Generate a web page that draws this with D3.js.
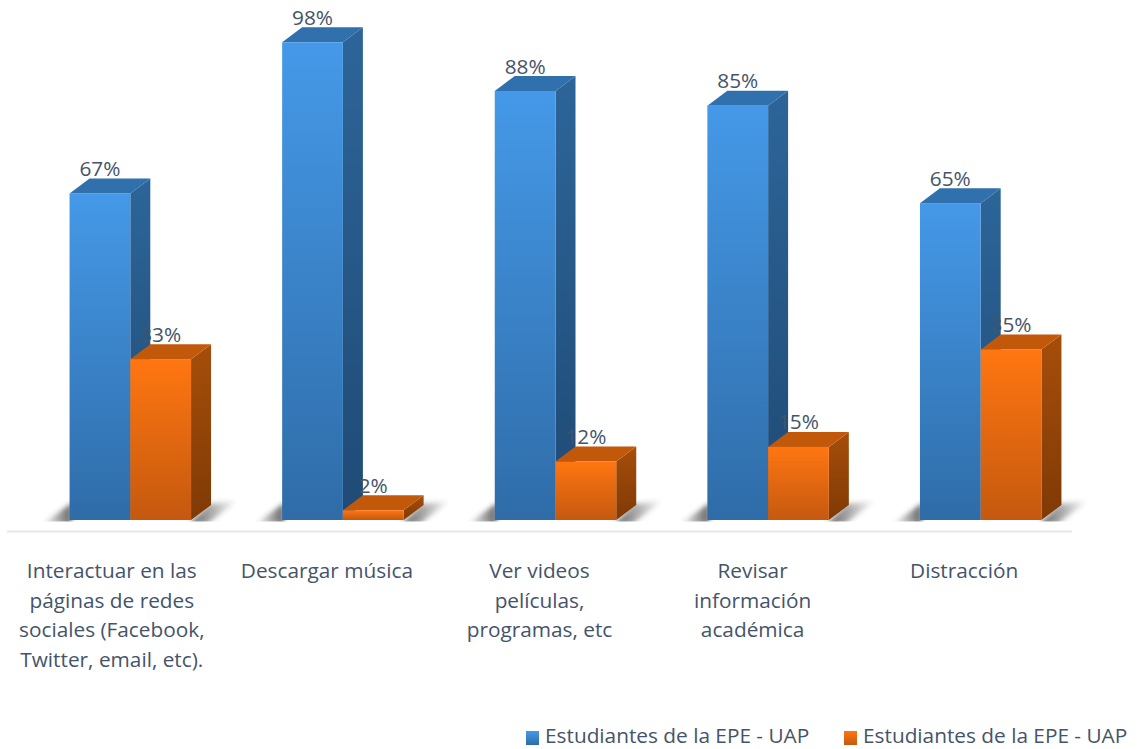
<!DOCTYPE html>
<html>
<head>
<meta charset="utf-8">
<script src="https://cdnjs.cloudflare.com/ajax/libs/d3/7.8.5/d3.min.js"></script>
<style>
  html, body { margin: 0; padding: 0; background: #fff; }
  text { font-family: 'Open Sans', sans-serif; fill: #44546a; }
</style>
</head>
<body>
<div id="chart"></div>
<script>
const categories = [
  ['Interactuar en las', 'páginas de redes', 'sociales (Facebook,', 'Twitter, email, etc).'],
  ['Descargar música'],
  ['Ver videos', 'películas,', 'programas, etc'],
  ['Revisar', 'información', 'académica'],
  ['Distracción']
];
const seriesNames = ['Estudiantes de la EPE - UAP', 'Estudiantes de la EPE - UAP'];
const seriesA = [67, 98, 88, 85, 65];
const seriesB = [33, 2, 12, 15, 35];

const WIDTH = 1138;
const HEIGHT = 749;
const BASE = 520;
const DEPTH = { x: 20, y: 15 };
const FONT = 20.8;
const LABEL_SHIFT = [-18.5, -16, -16, -15.5, -16.5];

const COLORS = [
  { front: ['#4599e8', '#2f6ca8'], side: ['#2d6599', '#1f4a75'], top: '#2f70ad' },
  { front: ['#ff7611', '#c4590f'], side: ['#a64e0a', '#7f3a05'], top: '#c2590a' }
];

const groupScale = d3.scaleBand()
  .domain(d3.range(categories.length))
  .range([24, 1087]);
const barScale = d3.scaleBand()
  .domain([0, 1])
  .range([0, groupScale.bandwidth()])
  .paddingOuter(0.75);
const yScale = d3.scaleLinear()
  .domain([0, 100])
  .range([BASE, 32.5]);

const svg = d3.select('#chart').append('svg')
  .attr('width', WIDTH)
  .attr('height', HEIGHT)
  .style('display', 'block');

const defs = svg.append('defs');

COLORS.forEach((c, i) => {
  for (let part of ['front', 'side']) {
    let grad = defs.append('linearGradient')
      .attr('id', `${part}${i}`)
      .attr('x1', 0).attr('y1', 0).attr('x2', 0).attr('y2', 1);
    grad.append('stop').attr('offset', '0%').attr('stop-color', c[part][0]);
    grad.append('stop').attr('offset', '100%').attr('stop-color', c[part][1]);
  }
});

// Shadow fades, one for each direction
for (let [id, from, to] of [['fadeLeft', 0, 0.8], ['fadeRight', 0.8, 0]]) {
  let grad = defs.append('linearGradient')
    .attr('id', id)
    .attr('x1', 0).attr('y1', 0).attr('x2', 1).attr('y2', 0);
  grad.append('stop').attr('offset', '0%').attr('stop-color', '#3a3a3a').attr('stop-opacity', from);
  grad.append('stop').attr('offset', '100%').attr('stop-color', '#3a3a3a').attr('stop-opacity', to);
}

defs.append('filter')
  .attr('id', 'blur')
  .attr('x', '-30%').attr('y', '-30%').attr('width', '160%').attr('height', '160%')
  .append('feGaussianBlur')
  .attr('stdDeviation', 2.5);

defs.append('clipPath')
  .attr('id', 'floor')
  .append('rect')
  .attr('x', 0).attr('y', 0).attr('width', WIDTH).attr('height', BASE + 1.5);

// Axis line under the bars
svg.append('line')
  .attr('x1', 7).attr('x2', 1072)
  .attr('y1', 531.5).attr('y2', 531.5)
  .style('stroke', '#e3e7ec')
  .style('stroke-width', 2);

// Floor shadows
const shadows = svg.append('g').attr('clip-path', 'url(#floor)');
categories.forEach((d, i) => {
  let left = groupScale(i) + barScale(0);
  let right = groupScale(i) + barScale(1) + barScale.bandwidth();
  shadows.append('polygon')
    .attr('points', [[left - 27, BASE + 4], [left + 2, BASE - 17], [left + 2, BASE + 4]].join(' '))
    .attr('filter', 'url(#blur)')
    .style('fill', 'url(#fadeLeft)');
  shadows.append('polygon')
    .attr('points', [[right - 2, BASE + 4], [right + DEPTH.x - 2, BASE - DEPTH.y - 1], [right + 46, BASE - DEPTH.y - 4], [right + 16, BASE + 4]].join(' '))
    .attr('filter', 'url(#blur)')
    .style('fill', 'url(#fadeRight)');
});

// Bars, blue first so the orange one sits in front of its dark side
const values = [seriesA, seriesB];
const bars = svg.append('g');
categories.forEach((d, i) => {
  values.forEach((series, s) => {
    let x = groupScale(i) + barScale(s);
    let w = barScale.bandwidth();
    let y = yScale(series[i]);
    let g = bars.append('g');

    g.append('polygon')
      .attr('points', [[x + w, y], [x + w + DEPTH.x, y - DEPTH.y], [x + w + DEPTH.x, BASE - DEPTH.y], [x + w, BASE]].join(' '))
      .style('fill', `url(#side${s})`);
    g.append('polygon')
      .attr('points', [[x, y], [x + DEPTH.x, y - DEPTH.y], [x + w + DEPTH.x, y - DEPTH.y], [x + w, y]].join(' '))
      .style('fill', COLORS[s].top);
    g.append('rect')
      .attr('x', x)
      .attr('y', y)
      .attr('width', w)
      .attr('height', BASE - y)
      .style('fill', `url(#front${s})`);
  });
});

// Value labels
const labels = svg.append('g');
values.forEach((series, s) => {
  labels.selectAll(`.label${s}`)
      .data(series)
    .enter().append('text')
      .attr('class', `label${s}`)
      .attr('x', (d, i) => groupScale(i) + barScale(s) + barScale.bandwidth() / 2)
      .attr('y', d => yScale(d) - 17.5)
      .attr('text-anchor', 'middle')
      .style('font-size', `${FONT}px`)
      .text(d => `${d}%`);
});

// Category labels, wrapped by hand like the original
categories.forEach((lines, i) => {
  svg.append('g').selectAll('text')
      .data(lines)
    .enter().append('text')
      .attr('x', groupScale(i) + groupScale.bandwidth() / 2 + LABEL_SHIFT[i])
      .attr('y', (d, j) => 578 + j * 29.5)
      .attr('text-anchor', 'middle')
      .style('font-size', `${FONT}px`)
      .text(d => d);
});

// Legend
const legendX = [526, 844];
seriesNames.forEach((name, s) => {
  let g = svg.append('g').attr('transform', `translate(${legendX[s]},731)`);
  g.append('rect')
    .attr('width', 13)
    .attr('height', 14)
    .style('fill', `url(#front${s})`);
  g.append('text')
    .attr('x', 19)
    .attr('y', 11.8)
    .style('font-size', `${FONT}px`)
    .text(name);
});
</script>
</body>
</html>
